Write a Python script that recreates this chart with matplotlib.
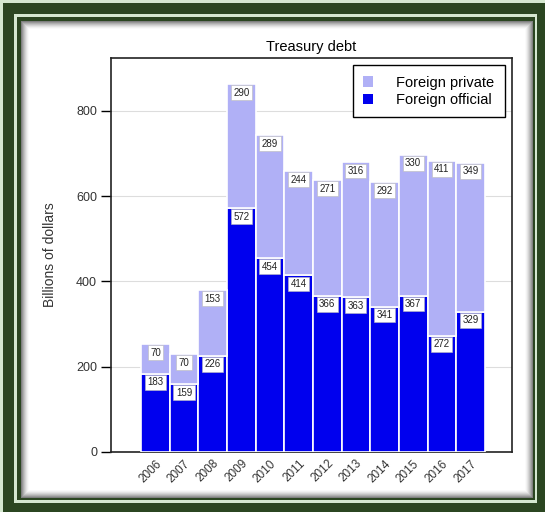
import numpy as np
import matplotlib
matplotlib.use("Agg")
import matplotlib.pyplot as plt
from matplotlib.patches import Patch

years = ["2006", "2007", "2008", "2009", "2010", "2011", "2012", "2013", "2014", "2015", "2016", "2017"]
official = [183, 159, 226, 572, 454, 414, 366, 363, 341, 367, 272, 329]
private = [70, 70, 153, 290, 289, 244, 271, 316, 292, 330, 411, 349]
yticks = [0, 200, 400, 600, 800]

W, H = 545, 512
plt.rcParams['font.family'] = ['Liberation Sans', 'DejaVu Sans']
fig = plt.figure(figsize=(W / 100, H / 100), dpi=100)

# decorative frame background
bg = np.zeros((H, W, 3))
light = np.array([213, 232, 208]) / 255
dark = np.array([43, 70, 33]) / 255
bg[:, :] = light
bg[3:, 3:] = dark
bg[14:503, 14:537] = light
bg[17:500, 17:535] = dark
x0, x1, y0, y1 = 21, 533, 21, 498
yy, xx = np.mgrid[y0:y1, x0:x1]
d = np.minimum.reduce([xx - x0, x1 - 1 - xx, yy - y0, y1 - 1 - yy]).astype(float)
shade = 1 - 0.5 * np.clip(1 - d / 8.0, 0, 1) ** 1.6
bg[y0:y1, x0:x1] = shade[..., None] * np.ones(3)
fig.figimage(bg, 0, 0, zorder=0)

ax = fig.add_axes([111 / W, (H - 452) / H, 401 / W, (452 - 58) / H])
ax.set_zorder(2)
ax.set_facecolor('white')

x = np.arange(len(years))
c_priv = '#b0b0f6'
c_off = '#0000ee'
ax.bar(x, official, width=1.0, color=c_off, edgecolor='white', linewidth=1.2, zorder=3)
ax.bar(x, private, width=1.0, bottom=official, color=c_priv, edgecolor='white', linewidth=1.2, zorder=3)

box = dict(boxstyle='square,pad=0.25', facecolor='white', edgecolor='#bbbbbb', linewidth=0.4)
for i in range(len(years)):
    ax.annotate(str(official[i]), (x[i], official[i]), xytext=(0, -2.5), textcoords='offset points',
                ha='center', va='top', fontsize=7, color='#222222', bbox=box, zorder=5)
    top = official[i] + private[i]
    ax.annotate(str(private[i]), (x[i], top), xytext=(0, -2.5), textcoords='offset points',
                ha='center', va='top', fontsize=7, color='#222222', bbox=box, zorder=5)

ax.set_xlim(-1.55, len(years) + 0.45)
ax.set_ylim(0, 924)
ax.set_yticks(yticks)
ax.set_yticklabels([str(v) for v in yticks], fontsize=9, color='#333333')
ax.set_xticks(x)
ax.set_xticklabels(years, rotation=45, ha='right', rotation_mode='anchor', fontsize=8.5, color='#333333')
ax.tick_params(axis='x', length=0, pad=4)
ax.tick_params(axis='y', length=7, width=1, pad=3)
ax.yaxis.grid(True, color='#dddddd', linewidth=0.8, zorder=0)
ax.set_axisbelow(True)
for s in ax.spines.values():
    s.set_linewidth(1.2)
    s.set_color('#222222')

ax.set_title("Treasury debt", fontsize=10.5, pad=5)
ax.set_ylabel("Billions of dollars", fontsize=10, color='#333333', labelpad=14)

handles = [Patch(facecolor=c_priv, edgecolor='none'), Patch(facecolor=c_off, edgecolor='none')]
leg = ax.legend(handles, ["Foreign private", "Foreign official"], loc='upper right', fontsize=10.5,
                frameon=True, fancybox=False, edgecolor='black', framealpha=1,
                handlelength=0.7, handleheight=0.7, handletextpad=1.6, borderpad=0.7,
                labelspacing=0.25, borderaxespad=0.5)
leg.get_frame().set_linewidth(1.0)
leg.set_zorder(10)

fig.savefig("out.png", dpi=100)
